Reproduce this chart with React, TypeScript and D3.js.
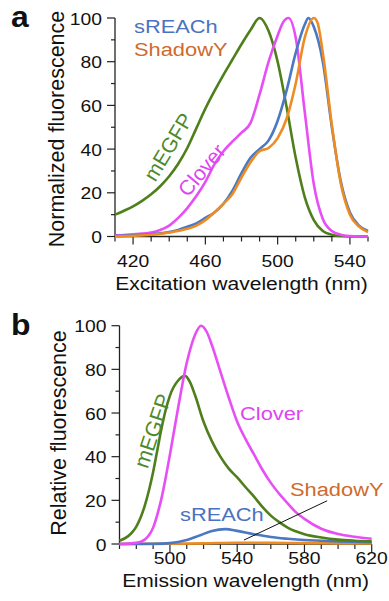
import * as d3 from "d3";

/* ---------- data ---------- */

// panel a: excitation spectra, [wavelength nm, normalized %]
const MEGFP_EX: [number, number][] = [
  [410, 10], [415, 11.8], [420, 13.8], [425, 16.3], [430, 19.3], [435, 23], [440, 27.6],
  [445, 33.3], [450, 40.5], [455, 49.5], [460, 58.5], [465, 66.5], [470, 74], [475, 81],
  [480, 88], [485, 94.5], [490, 100], [495, 94], [500, 80], [505, 59], [510, 36],
  [515, 18], [520, 7.5], [525, 2.5], [530, 0.8], [535, 0.2], [540, 0], [550, 0],
];
const CLOVER_EX: [number, number][] = [
  [410, 0.5], [415, 0.7], [420, 1], [425, 1.3], [430, 1.8], [435, 3], [440, 5],
  [445, 8.5], [450, 13], [455, 18.5], [460, 25], [465, 33], [470, 39], [475, 43.5],
  [480, 47.5], [485, 52], [490, 65], [495, 80], [500, 92], [503, 98], [506, 100],
  [510, 91], [515, 57], [520, 24], [525, 8], [530, 2.5], [535, 0.8], [540, 0.2],
  [545, 0], [550, 0],
];
const SREACH_EX: [number, number][] = [
  [410, 0.2], [420, 0.5], [430, 1], [440, 2], [445, 3], [450, 4.5], [455, 6],
  [460, 8.5], [465, 11], [470, 15], [475, 21], [480, 29], [485, 36], [490, 40],
  [495, 44], [500, 53], [505, 67], [510, 84], [515, 97], [517, 100], [520, 96],
  [525, 80], [530, 50], [535, 25], [540, 11], [545, 5], [550, 2.5],
];
const SHADOWY_EX: [number, number][] = [
  [410, 0], [420, 0.3], [430, 0.8], [440, 1.8], [450, 3.5], [455, 5], [460, 7.5],
  [465, 11], [470, 15], [475, 19.5], [480, 27], [485, 34], [490, 39], [495, 40.5],
  [500, 45], [505, 54], [510, 70], [515, 91], [520, 100], [522, 98], [525, 84],
  [530, 51], [535, 24], [540, 10], [545, 4.5], [550, 2],
];

// panel b: emission spectra, [wavelength nm, relative %]
const MEGFP_EM: [number, number][] = [
  [470, 1.5], [475, 3.5], [477.5, 5.3], [480, 8], [482.5, 12], [485, 17.5],
  [487.5, 24.5], [490, 33], [492.5, 43], [495, 53], [497.5, 61.5], [500, 68],
  [505, 75], [509, 77], [512, 74], [515, 68], [520, 56], [525, 47], [530, 40],
  [535, 34.5], [540, 30.5], [545, 26], [550, 21.7], [555, 17], [560, 13],
  [565, 10], [570, 7.5], [580, 4.5], [590, 3], [600, 2], [610, 1.5], [620, 1.2],
];
const CLOVER_EM: [number, number][] = [
  [470, 0], [480, 0.5], [485, 2], [487.5, 4], [490, 7.5], [492.5, 13.5], [495, 21],
  [497.5, 30.5], [500, 41], [505, 63], [510, 83], [515, 96], [518.5, 100], [522, 97],
  [525, 91], [530, 79], [535, 67], [540, 56], [545, 48], [550, 41], [555, 34],
  [560, 28], [565, 23], [570, 18.6], [575, 14.5], [580, 11.5], [590, 7], [600, 4.6],
  [610, 3.3], [620, 2.4],
];
const SREACH_EM: [number, number][] = [
  [470, 0], [490, 0.1], [500, 0.4], [510, 1.8], [518, 4], [525, 6], [533, 6.8],
  [540, 6], [550, 4.5], [560, 3.2], [570, 2.4], [580, 1.8], [590, 1.5], [600, 1.2],
  [620, 0.8],
];
const SHADOWY_EM: [number, number][] = [
  [470, 0], [500, 0.1], [520, 0.3], [540, 0.6], [560, 0.5], [580, 0.4], [600, 0.3],
  [620, 0.2],
];
// leader line from ShadowY label to its emission curve
const SHADOWY_LEADER: [number, number][] = [[544, 1.8], [593.5, 19.8]];

const Y_LABELS = [0, 20, 40, 60, 80, 100];
const EX_LABELS = [420, 460, 500, 540];
const EM_LABELS = [500, 540, 580, 620];

const GREEN = "#4f7f1a";
const MAGENTA = "#e84ef5";
const BLUE = "#4a78c2";
const ORANGE = "#ee8c22";
const FONT = "'Liberation Sans', Arial, sans-serif";
const SX = 1.15;

/* ---------- helpers ---------- */

function T({ x, y, size, fill = "#111", anchor = "start", rotate = 0, sx = SX, weight = "normal", children }: any) {
  return (
    <text
      transform={`translate(${x},${y}) scale(${sx},1) rotate(${rotate})`}
      fontSize={size}
      fontFamily={FONT}
      fontWeight={weight}
      textAnchor={anchor}
      fill={fill}
    >
      {children}
    </text>
  );
}

function Axes({ x, y, xLabels, xMinor, labelGap, title, titleY, yTitle, yTitleX, yTitleY }: any) {
  const [x0, x1] = x.range();
  const [y0, y1] = y.range();
  const yMinor = d3.range(10, 100, 20);
  return (
    <g>
      <line x1={x0} x2={x1} y1={y0} y2={y0} stroke="#222" strokeWidth={1.3} />
      <line x1={x0} x2={x0} y1={y0} y2={y1} stroke="#222" strokeWidth={1.3} />
      {xMinor.map((t: number) => (
        <line key={t} x1={x(t)} x2={x(t)} y1={y0} y2={y0 + (xLabels.includes(t) ? 8 : 5)} stroke="#222" strokeWidth={1.2} />
      ))}
      {Y_LABELS.map((t) => (
        <line key={t} x1={x0 - 8} x2={x0} y1={y(t)} y2={y(t)} stroke="#222" strokeWidth={1.2} />
      ))}
      {yMinor.map((t) => (
        <line key={t} x1={x0 - 4} x2={x0} y1={y(t)} y2={y(t)} stroke="#222" strokeWidth={1.2} />
      ))}
      {Y_LABELS.map((t) => (
        <T key={t} x={x0 - 13} y={y(t) + 6.5} size={16.8} anchor="end">{t}</T>
      ))}
      {xLabels.map((t: number) => (
        <T key={t} x={x(t)} y={y0 + labelGap} size={16.8} anchor="middle">{t}</T>
      ))}
      <T x={(x0 + x1) / 2} y={titleY} size={18.3} anchor="middle">{title}</T>
      <T x={yTitleX} y={yTitleY} size={21.5} anchor="middle" rotate={-90} sx={1.05}>{yTitle}</T>
    </g>
  );
}

/* ---------- chart ---------- */

export default function App() {
  const xa = d3.scaleLinear().domain([410, 550]).range([115, 368]);
  const ya = d3.scaleLinear().domain([0, 100]).range([236.5, 18]);
  const xb = d3.scaleLinear().domain([470, 620]).range([119.5, 371.7]);
  const yb = d3.scaleLinear().domain([0, 100]).range([544, 325.7]);

  const lineA = d3.line<[number, number]>().x((d) => xa(d[0])).y((d) => ya(d[1])).curve(d3.curveMonotoneX);
  const lineB = d3.line<[number, number]>().x((d) => xb(d[0])).y((d) => yb(d[1])).curve(d3.curveMonotoneX);
  const leader = d3.line<[number, number]>().x((d) => xb(d[0])).y((d) => yb(d[1]));

  const sw = 2.6;

  return (
    <svg width={389} height={601} style={{ position: "absolute", left: 0, top: 0, background: "#fff" }}>
      {/* panel a */}
      <T x={11} y={27} size={29} weight="bold" sx={1.1}>a</T>
      <Axes
        x={xa}
        y={ya}
        xLabels={EX_LABELS}
        xMinor={d3.range(410, 551, 10)}
        labelGap={30}
        title="Excitation wavelength (nm)"
        titleY={290}
        yTitle="Normalized fluorescence"
        yTitleX={64}
        yTitleY={129}
      />
      <path d={lineA(MEGFP_EX) as string} fill="none" stroke={GREEN} strokeWidth={sw} />
      <path d={lineA(CLOVER_EX) as string} fill="none" stroke={MAGENTA} strokeWidth={sw} />
      <path d={lineA(SREACH_EX) as string} fill="none" stroke={BLUE} strokeWidth={sw} />
      <path d={lineA(SHADOWY_EX) as string} fill="none" stroke={ORANGE} strokeWidth={sw} />
      <T x={134} y={32.5} size={19} fill="#4a72c0">sREACh</T>
      <T x={134} y={55.5} size={19} fill="#cf6a2c">ShadowY</T>
      <text transform="translate(168,147) rotate(-59)" fontSize={21} fontFamily={FONT} textAnchor="middle" dominantBaseline="central" fill="#4e8a2a">mEGFP</text>
      <text transform="translate(201.5,170) rotate(-50)" fontSize={21} fontFamily={FONT} textAnchor="middle" dominantBaseline="central" fill="#dd45f0">Clover</text>

      {/* panel b */}
      <T x={11} y={335} size={29} weight="bold" sx={1.1}>b</T>
      <Axes
        x={xb}
        y={yb}
        xLabels={EM_LABELS}
        xMinor={d3.range(470, 621, 10)}
        labelGap={19.5}
        title="Emission wavelength (nm)"
        titleY={587}
        yTitle="Relative fluorescence"
        yTitleX={66}
        yTitleY={433}
      />
      <path d={lineB(SHADOWY_EM) as string} fill="none" stroke={ORANGE} strokeWidth={sw} />
      <path d={lineB(SREACH_EM) as string} fill="none" stroke={BLUE} strokeWidth={sw} />
      <path d={lineB(MEGFP_EM) as string} fill="none" stroke={GREEN} strokeWidth={sw} />
      <path d={lineB(CLOVER_EM) as string} fill="none" stroke={MAGENTA} strokeWidth={sw} />
      <path d={leader(SHADOWY_LEADER) as string} fill="none" stroke="#111" strokeWidth={1} />
      <T x={240} y={419.5} size={19} fill="#dd45f0">Clover</T>
      <T x={180} y={520.5} size={19} fill="#4a72c0">sREACh</T>
      <T x={290} y={496} size={19} fill="#cf6a2c">ShadowY</T>
      <text transform="translate(153,431) rotate(-71.5)" fontSize={21.5} fontFamily={FONT} textAnchor="middle" dominantBaseline="central" fill="#4e8a2a">mEGFP</text>
    </svg>
  );
}
